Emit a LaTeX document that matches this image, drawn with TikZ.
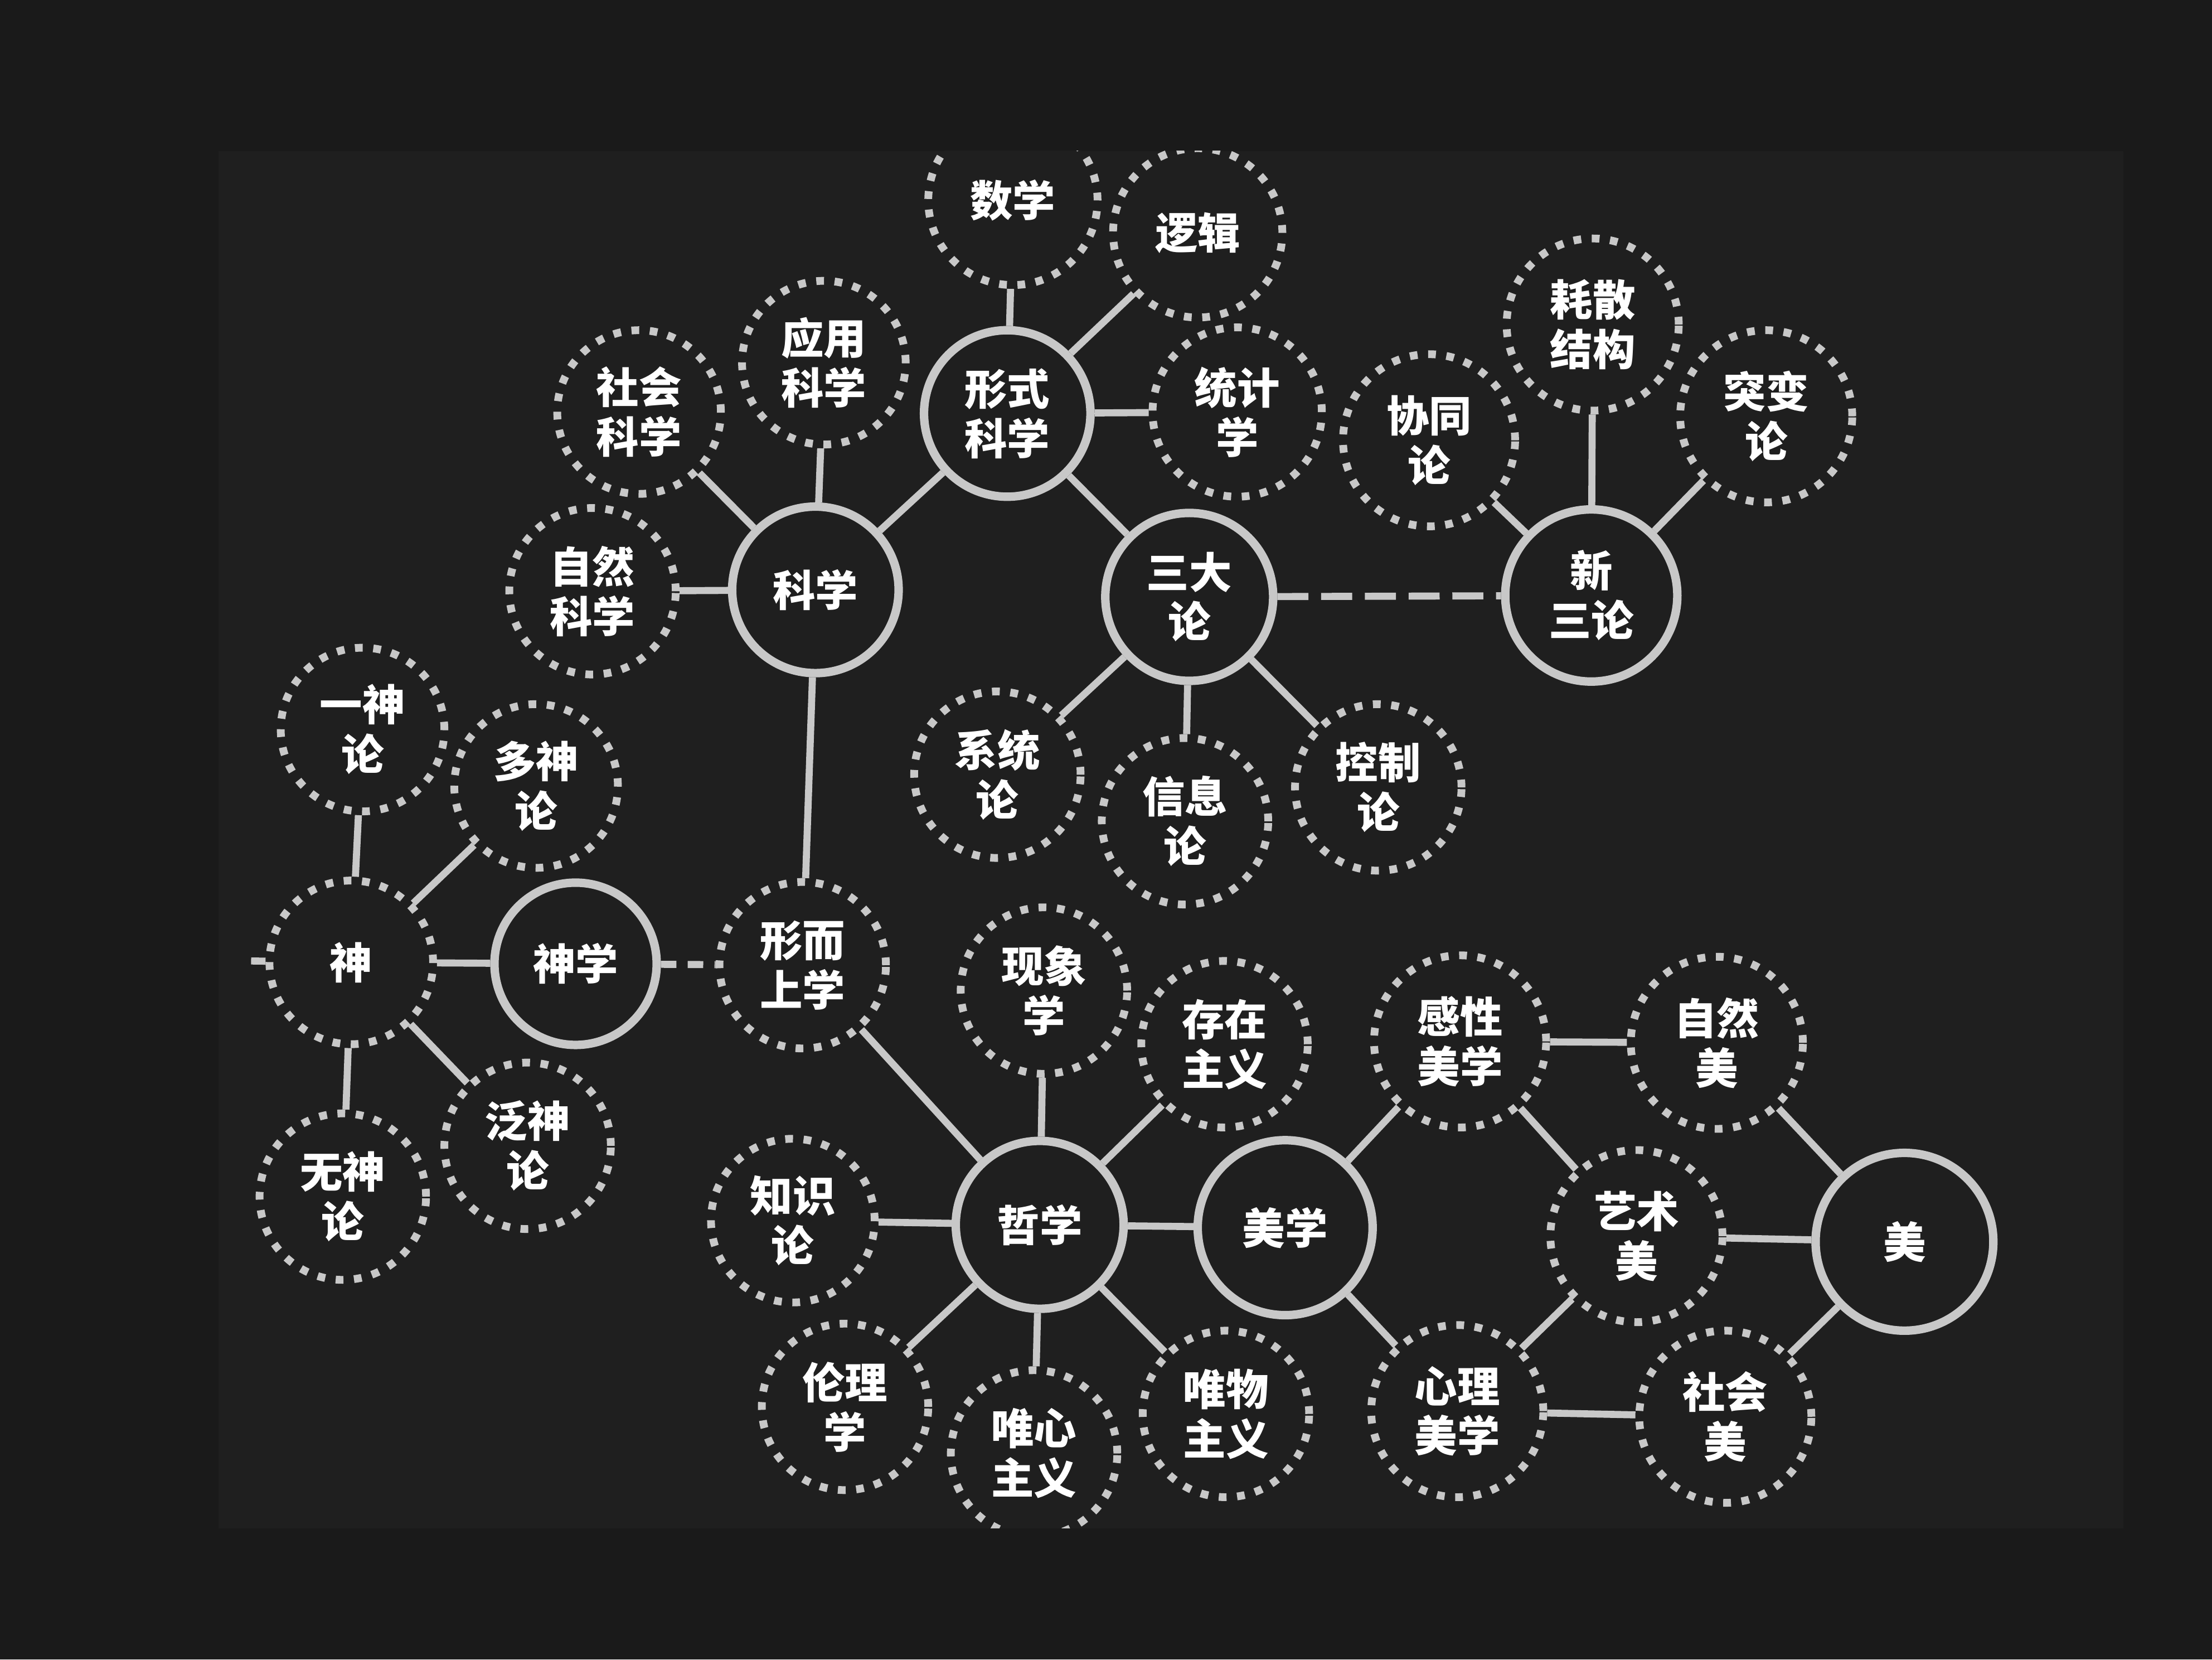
\documentclass[tikz,border=0pt]{standalone}
\usepackage{fontspec}
\newfontfamily\cjk{Noto Sans CJK SC}
\definecolor{board}{HTML}{1A1A1A}
\definecolor{slide}{HTML}{1F1F1F}
\definecolor{ring}{HTML}{C8C8C8}
\tikzset{
  hub/.style={draw=ring, fill=slide, line width=0.6mm, circle, minimum size=11.8mm,
    inner sep=0, align=center, text=white, font=\cjk\bfseries\fontsize{8.6}{10}\selectfont},
  leaf/.style={hub, line width=0.55mm, dash pattern=on 0.55mm off 0.75mm},
  link/.style={draw=ring, line width=0.5mm},
  gap/.style={link, dash pattern=on 2.2mm off 0.9mm},
}
\begin{document}
\begin{tikzpicture}[x=0.1mm, y=-0.1mm]
    \fill[board] (0,0) rectangle (1568,1176);
    \useasboundingbox (0,0) rectangle (1568,1176);
    \fill[slide] (155,107) rectangle (1505,1083);
    \begin{scope}
    \clip (0,107) rectangle (1568,1083);
    % science branch
    \node[hub] (xingshi) at (714,293) {形式\\科学};
    \node[hub] (kexue) at (578,418) {科学};
    \node[hub, minimum size=11.9mm] (sanda) at (843,423) {三大\\论};
    \node[hub, minimum size=12.2mm] (xinsan) at (1128,422) {新\\三论};
    \node[leaf, minimum size=12mm] (shuxue) at (718,142) {数学};
    \node[leaf, minimum size=12mm] (luoji) at (849,165) {逻辑};
    \node[leaf, minimum size=12mm] (tongji) at (877,292) {统计\\学};
    \node[leaf, minimum size=11.6mm] (yingyong) at (584,257) {应用\\科学};
    \node[leaf, minimum size=11.6mm] (shehui) at (453,292) {社会\\科学};
    \node[leaf, minimum size=11.8mm] (ziran) at (420,419) {自然\\科学};
    \node[leaf, minimum size=12.2mm] (xietong) at (1013,312) {协同\\论};
    \node[leaf, minimum size=12.2mm] (haosan) at (1129,230) {耗散\\结构};
    \node[leaf, minimum size=12.2mm] (tubian) at (1252,295) {突变\\论};
    \node[leaf, minimum size=11.8mm] (xitong) at (707,549) {系统\\论};
    \node[leaf, minimum size=11.8mm] (xinxi) at (840,582) {信息\\论};
    \node[leaf, minimum size=11.8mm] (kongzhi) at (977,558) {控制\\论};
    % religion branch
    \node[leaf, minimum size=11.6mm] (yishen) at (257,517) {一神\\论};
    \node[leaf, minimum size=11.6mm] (duoshen) at (380,557) {多神\\论};
    \node[leaf, minimum size=11.6mm] (shen) at (249,682) {神};
    \node[leaf, minimum size=11.8mm] (wushen) at (243,848) {无神\\论};
    \node[leaf, minimum size=11.8mm] (fanshen) at (374,812) {泛神\\论};
    \node[hub, minimum size=11.5mm] (shenxue) at (408,683) {神学};
    \coordinate (stub) at (178,681);
    % philosophy branch
    \node[leaf, minimum size=11.8mm] (xingershang) at (569,684) {形而\\上学};
    \node[hub, minimum size=11.9mm] (zhexue) at (737,868) {哲学};
    \node[leaf, minimum size=11.8mm] (xianxiang) at (740,702) {现象\\学};
    \node[leaf, minimum size=11.8mm] (cunzai) at (868,740) {存在\\主义};
    \node[leaf, minimum size=11.6mm] (zhishi) at (562,865) {知识\\论};
    \node[leaf, minimum size=11.8mm] (lunli) at (599,997) {伦理\\学};
    \node[leaf, minimum size=11.8mm] (weixin) at (733,1030) {唯心\\主义};
    \node[leaf, minimum size=11.8mm] (weiwu) at (869,1002) {唯物\\主义};
    % aesthetics branch
    \node[hub, minimum size=12.4mm] (meixue) at (911,870) {美学};
    \node[leaf, minimum size=12.2mm] (ganxing) at (1035,738) {感性\\美学};
    \node[leaf, minimum size=12.2mm] (ziranmei) at (1217,739) {自然\\美};
    \node[leaf, minimum size=12.2mm] (yishu) at (1160,876) {艺术\\美};
    \node[leaf, minimum size=12.2mm] (xinli) at (1033,1000) {心理\\美学};
    \node[leaf, minimum size=12.2mm] (shehuimei) at (1223,1004) {社会\\美};
    \node[hub, minimum size=12.6mm] (mei) at (1350,880) {美};
    % connectors
    \draw[link] (shuxue) -- (xingshi);
    \draw[link] (luoji) -- (xingshi);
    \draw[link] (tongji) -- (xingshi);
    \draw[link] (xingshi) -- (kexue);
    \draw[link] (xingshi) -- (sanda);
    \draw[link] (yingyong) -- (kexue);
    \draw[link] (shehui) -- (kexue);
    \draw[link] (ziran) -- (kexue);
    \draw[gap] (sanda) -- (xinsan);
    \draw[link] (sanda) -- (xitong);
    \draw[link] (sanda) -- (xinxi);
    \draw[link] (sanda) -- (kongzhi);
    \draw[link] (xinsan) -- (xietong);
    \draw[link] (xinsan) -- (haosan);
    \draw[link] (xinsan) -- (tubian);
    \draw[link] (kexue) -- (xingershang);
    \draw[link] (shen) -- (yishen);
    \draw[link] (shen) -- (duoshen);
    \draw[link] (shen) -- (wushen);
    \draw[link] (shen) -- (fanshen);
    \draw[link] (shen) -- (shenxue);
    \draw[link] (shen) -- (stub);
    \draw[link, dash pattern=on 1.1mm off 0.8mm] (shenxue) -- (xingershang);
    \draw[link] (xingershang) -- (zhexue);
    \draw[link] (zhexue) -- (xianxiang);
    \draw[link] (zhexue) -- (cunzai);
    \draw[link] (zhexue) -- (zhishi);
    \draw[link] (zhexue) -- (lunli);
    \draw[link] (zhexue) -- (weixin);
    \draw[link] (zhexue) -- (weiwu);
    \draw[link] (zhexue) -- (meixue);
    \draw[link] (meixue) -- (ganxing);
    \draw[link] (meixue) -- (xinli);
    \draw[link] (ganxing) -- (ziranmei);
    \draw[link] (ganxing) -- (yishu);
    \draw[link] (xinli) -- (yishu);
    \draw[link] (xinli) -- (shehuimei);
    \draw[link] (ziranmei) -- (mei);
    \draw[link] (yishu) -- (mei);
    \draw[link] (shehuimei) -- (mei);
    \end{scope}
\end{tikzpicture}
\end{document}
